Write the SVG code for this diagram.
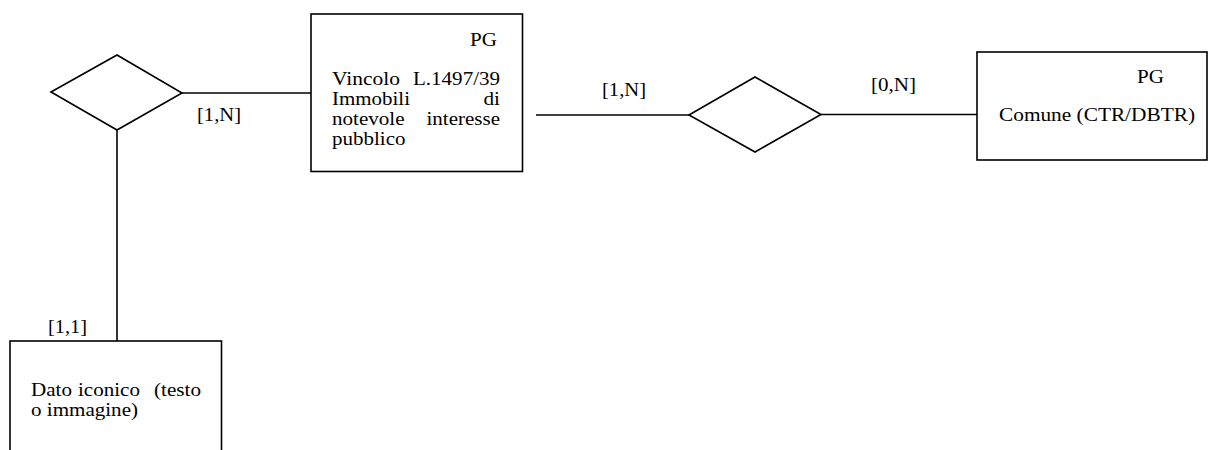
<svg xmlns="http://www.w3.org/2000/svg" width="1209" height="450" viewBox="0 0 1209 450">
<style>
.s{fill:none;stroke:#000;stroke-width:1.6}
.b{fill:#fff;stroke:#000;stroke-width:1.6}
.t{font-family:'Liberation Serif','DejaVu Serif',serif;font-size:18px;fill:#000}
.e{text-anchor:end}
</style>
<rect width="1209" height="450" fill="#fff"/>
<g id="connectors">
<line class="s" x1="182" y1="93" x2="311" y2="93"/>
<line class="s" x1="117" y1="130" x2="117" y2="341"/>
<line class="s" x1="536" y1="115" x2="689" y2="115"/>
<line class="s" x1="821" y1="114.5" x2="977" y2="114.5"/>
<text class="t" x="197" y="121" textLength="44" lengthAdjust="spacingAndGlyphs">[1,N]</text>
<text class="t" x="48" y="333" textLength="39" lengthAdjust="spacingAndGlyphs">[1,1]</text>
<text class="t" x="602" y="96" textLength="44" lengthAdjust="spacingAndGlyphs">[1,N]</text>
<text class="t" x="871" y="91" textLength="45" lengthAdjust="spacingAndGlyphs">[0,N]</text>
</g>
<g id="rel1">
<polygon class="b" points="51,92 117,55 182,93 117,130"/>
</g>
<g id="rel2">
<polygon class="b" points="689,115 755,77 821,114.5 755,152"/>
</g>
<g id="vincolo">
<rect class="b" x="311" y="14" width="211.5" height="157.5"/>
<text class="t e" x="497" y="46" textLength="27" lengthAdjust="spacingAndGlyphs">PG</text>
<text class="t"><tspan x="332" y="85" textLength="68" lengthAdjust="spacingAndGlyphs">Vincolo</tspan><tspan class="e" x="500" y="85" textLength="87" lengthAdjust="spacingAndGlyphs">L.1497/39</tspan><tspan x="332" y="105" textLength="78" lengthAdjust="spacingAndGlyphs">Immobili</tspan><tspan class="e" x="500" y="105" textLength="16.5" lengthAdjust="spacingAndGlyphs">di</tspan><tspan x="332" y="125" textLength="72.5" lengthAdjust="spacingAndGlyphs">notevole</tspan><tspan class="e" x="500" y="125" textLength="73.5" lengthAdjust="spacingAndGlyphs">interesse</tspan><tspan x="332" y="145" textLength="73.5" lengthAdjust="spacingAndGlyphs">pubblico</tspan></text>
</g>
<g id="comune">
<rect class="b" x="977" y="52" width="230" height="108"/>
<text class="t e" x="1164" y="83" textLength="27" lengthAdjust="spacingAndGlyphs">PG</text>
<text class="t" x="999" y="121" textLength="196" lengthAdjust="spacingAndGlyphs">Comune (CTR/DBTR)</text>
</g>
<g id="dato">
<rect class="b" x="10" y="341" width="211.5" height="120"/>
<text class="t"><tspan x="31" y="396" textLength="41" lengthAdjust="spacingAndGlyphs">Dato</tspan><tspan x="78" y="396" textLength="62" lengthAdjust="spacingAndGlyphs">iconico</tspan><tspan class="e" x="201" y="396" textLength="47" lengthAdjust="spacingAndGlyphs">(testo</tspan><tspan x="31" y="416" textLength="107" lengthAdjust="spacingAndGlyphs">o immagine)</tspan></text>
</g>
</svg>
